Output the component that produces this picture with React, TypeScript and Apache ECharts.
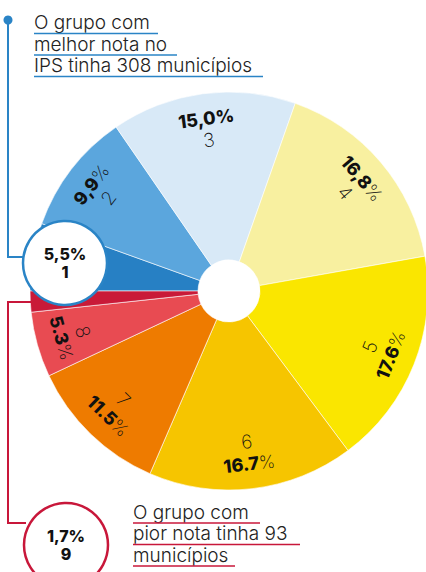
import React, { useEffect, useRef } from 'react';
import * as echarts from 'echarts';

// ---- data ----
const groups = ['1', '2', '3', '4', '5', '6', '7', '8', '9'];
const shares = [5.5, 9.9, 15.0, 16.8, 17.6, 16.7, 11.5, 5.3, 1.7];
const shareLabels = ['5,5', '9,9', '15,0', '16,8', '17.6', '16.7', '11.5', '5.3', '1,7'];
const boldPercentSign = [true, false, true, false, false, false, false, false, true];
const colors = ['#2780c4', '#5ba6dd', '#d8e9f7', '#f8f0a0', '#fae600', '#f6c500', '#ee7b00', '#e84b52', '#c91a38'];
const topNote = ['O grupo com', 'melhor nota no', 'IPS tinha 308 municípios'];
const bottomNote = ['O grupo com', 'pior nota tinha 93', 'municípios'];
const bestIndex = 0;
const worstIndex = 8;

const FONT = "Inter, 'Open Sans', 'Noto Sans', sans-serif";
const BLUE = '#2a84c6';
const RED = '#c8173a';

export default function App() {
  const ref = useRef<HTMLDivElement>(null);

  useEffect(() => {
    if (!ref.current) return;
    const chart = echarts.init(ref.current, undefined, { renderer: 'svg' });

    const total = shares.reduce((a, b) => a + b, 0);
    const startAngle = 180;
    let cum = 0;
    const labelData = shares.map((v, i) => {
      const mid = (cum + v / 2) / total;
      cum += v;
      const ang = ((startAngle - 360 * mid) * Math.PI) / 180;
      const upper = Math.sin(ang) > 0;
      const pct = `{b|${shareLabels[i]}}{${boldPercentSign[i] ? 'bp' : 't'}|%}`;
      const num = `{n|${groups[i]}}`;
      const show = i !== bestIndex && i !== worstIndex;
      return {
        name: groups[i],
        value: v,
        label: {
          show,
          formatter: upper ? `${pct}\n${num}` : `${num}\n${pct}`,
        },
      };
    });

    const underlineWidthsTop = [124, 143, 229];
    const underlineWidthsBottom = [127, 167, 102];

    const noteBlock = (lines: string[], x: number, baseY: number, widths: number[], color: string) => {
      const els: any[] = [];
      lines.forEach((t, k) => {
        const y = baseY + k * 21.5;
        els.push({
          type: 'text',
          z: 20,
          style: {
            text: t,
            x,
            y,
            align: 'left',
            verticalAlign: 'middle',
            fontFamily: FONT,
            fontWeight: 300,
            fontSize: 19,
            lineHeight: 19,
            fill: '#222',
          },
        });
        els.push({
          type: 'line',
          z: 20,
          shape: { x1: x, y1: y + 11, x2: x + widths[k], y2: y + 11 },
          style: { stroke: color, lineWidth: 1.6 },
        });
      });
      return els;
    };

    const circleText = (text: string, x: number, y: number) => ({
      type: 'text',
      z: 21,
      style: {
        text,
        x,
        y,
        align: 'center',
        verticalAlign: 'middle',
        fontFamily: FONT,
        fontWeight: 800,
        fontSize: 16,
        lineHeight: 16,
        fill: '#111',
      },
    });

    const calloutCircle = (cx: number, cy: number, idx: number, color: string) => [
      {
        type: 'circle',
        z: 20,
        shape: { cx, cy, r: 42 },
        style: { fill: '#fff', stroke: color, lineWidth: 2.5 },
      },
      circleText(`${shareLabels[idx]}%`, cx, cy - 9.3),
      circleText(groups[idx], cx, cy + 9.3),
    ];

    const option: any = {
      animation: false,
      backgroundColor: '#fff',
      series: [
        {
          type: 'pie',
          center: [229, 291],
          radius: [31, 199],
          startAngle,
          clockwise: true,
          silent: true,
          label: { show: false },
          labelLine: { show: false },
          itemStyle: { borderColor: '#fff', borderWidth: 0.6 },
          data: shares.map((v, i) => ({ name: groups[i], value: v, itemStyle: { color: colors[i] } })),
        },
        {
          type: 'pie',
          center: [229, 291],
          radius: [121, 199],
          startAngle,
          clockwise: true,
          silent: true,
          itemStyle: { color: 'rgba(0,0,0,0)' },
          labelLine: { show: false },
          label: {
            show: true,
            position: 'inside',
            rotate: 'tangential',
            lineHeight: 22,
            rich: {
              b: { fontFamily: FONT, fontWeight: 800, fontSize: 18, color: '#111' },
              bp: { fontFamily: FONT, fontWeight: 800, fontSize: 18, color: '#111' },
              t: { fontFamily: FONT, fontWeight: 200, fontSize: 18, color: '#111' },
              n: { fontFamily: FONT, fontWeight: 200, fontSize: 19, color: '#111' },
            },
          },
          data: labelData,
        },
      ],
      graphic: {
        elements: [
          {
            type: 'polyline',
            z: 15,
            shape: { points: [[8, 20], [8, 257], [26, 257]] },
            style: { stroke: BLUE, lineWidth: 2, fill: null },
          },
          { type: 'circle', z: 15, shape: { cx: 8, cy: 20, r: 4.5 }, style: { fill: BLUE } },
          {
            type: 'polyline',
            z: 15,
            shape: { points: [[31, 302], [8, 302], [8, 523], [26, 523]] },
            style: { stroke: RED, lineWidth: 2, fill: null },
          },
          ...calloutCircle(65, 263, bestIndex, BLUE),
          ...calloutCircle(66, 545, worstIndex, RED),
          ...noteBlock(topNote, 34, 22.5, underlineWidthsTop, BLUE),
          ...noteBlock(bottomNote, 133, 512, underlineWidthsBottom, RED),
        ],
      },
    };

    chart.setOption(option);
    return () => chart.dispose();
  }, []);

  return (
    <div
      ref={ref}
      style={{ position: 'fixed', left: 0, top: 0, width: 426, height: 572 }}
    />
  );
}
